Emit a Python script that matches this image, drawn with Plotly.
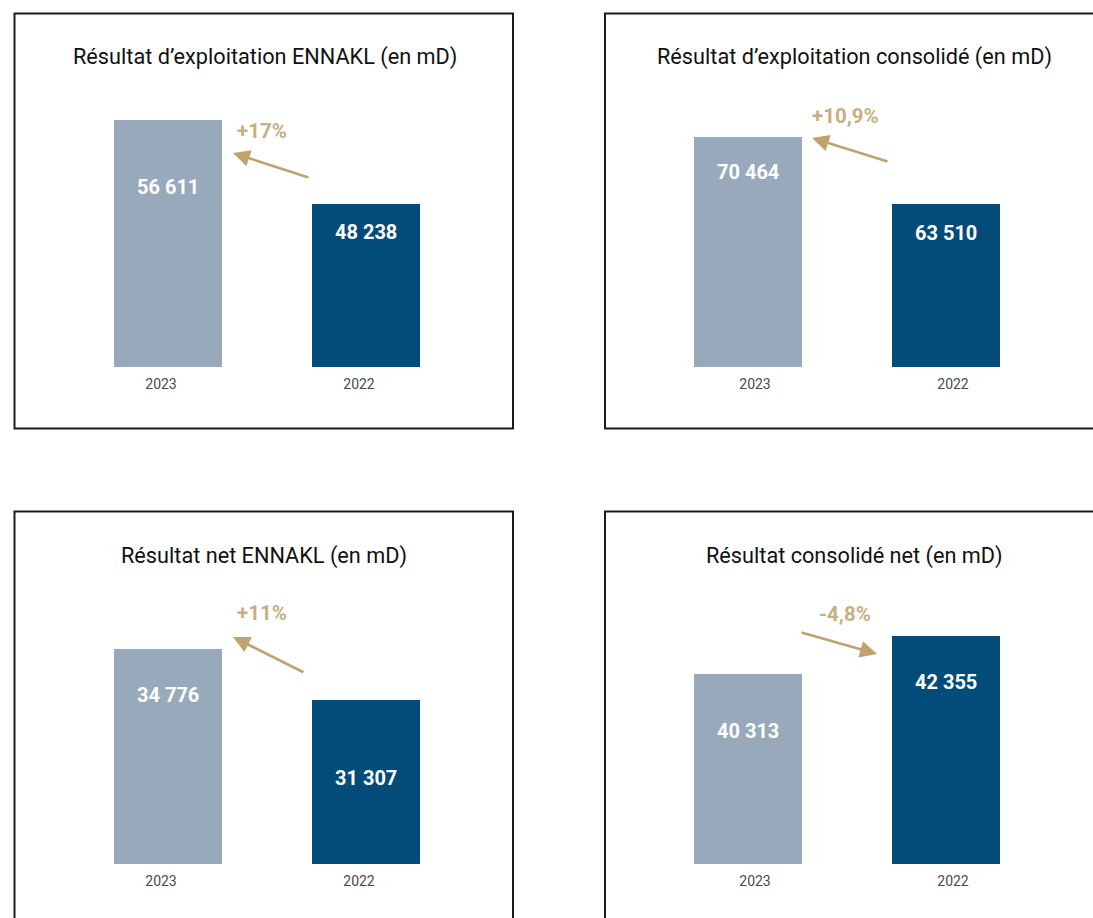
import plotly.graph_objects as go

W, H = 1093, 918

# ---- data ----
years = ["2023", "2022"]
titles = [
    "Résultat d’exploitation ENNAKL (en mD)",
    "Résultat d’exploitation consolidé (en mD)",
    "Résultat net ENNAKL (en mD)",
    "Résultat consolidé net (en mD)",
]
vals_exploit_ennakl = [56611, 48238]
vals_exploit_conso = [70464, 63510]
vals_net_ennakl = [34776, 31307]
vals_net_conso = [40313, 42355]
changes = ["+17%", "+10,9%", "+11%", "-4,8%"]

series = [vals_exploit_ennakl, vals_exploit_conso, vals_net_ennakl, vals_net_conso]

# ---- styling / layout (pixels) ----
LIGHT = "#97A9BB"
DARK = "#034B78"
GOLD_TXT = "#C6B083"
GOLD_ARR = "#BEA36F"
FONT = "Roboto"


def px(x):
    return x / W


def py(y):
    return 1 - y / H


panels = [
    dict(box=(14.5, 13.5, 513, 428.5), xdom=(69, 465), base=367, top=100,
         yrange=(31990, 58604), title=(265, 57), change=(262, 131),
         tip=(233, 153), tail=(310, 178), labels_y=(187, 232), shift=-7),
    dict(box=(605, 13.5, 1110, 428.5), xdom=(649, 1045), base=367, top=100,
         yrange=(46592, 74304), title=(854, 57), change=(845, 116),
         tip=(812, 138), tail=(889, 162), labels_y=(172, 233), shift=7),
    dict(box=(14.5, 511.5, 513, 940), xdom=(69, 465), base=864, top=597,
         yrange=(20152, 38313), title=(264, 556), change=(262, 613),
         tip=(233, 637), tail=(305, 673), labels_y=(695, 778), shift=-7),
    dict(box=(605, 511.5, 1110, 940), xdom=(649, 1045), base=864, top=597,
         yrange=(30103, 44451), title=(854, 556), change=(845, 614),
         tip=(877, 654), tail=(800, 632), labels_y=(731, 682), shift=7),
]

fig = go.Figure()
annotations = []
shapes = []
layout = {}

for i, (p, vals) in enumerate(zip(panels, series)):
    n = "" if i == 0 else str(i + 1)
    xa, ya = "x" + n, "y" + n
    fig.add_trace(go.Bar(
        x=years, y=vals, xaxis=xa, yaxis=ya,
        marker=dict(color=[LIGHT, DARK], line=dict(width=0)),
        width=0.545, hoverinfo="skip", showlegend=False,
    ))
    layout["xaxis" + n] = dict(
        type="category",
        domain=[px(p["xdom"][0]), px(p["xdom"][1])], anchor=ya,
        range=[-0.5, 1.5], showgrid=False, zeroline=False, showline=False,
        ticks="", tickfont=dict(family=FONT, size=14, color="#4a4a4a"),
        ticklabelstandoff=7, ticklabelshift=p["shift"], fixedrange=True,
    )
    layout["yaxis" + n] = dict(
        domain=[py(p["base"]), py(p["top"])], anchor=xa,
        range=list(p["yrange"]), visible=False, fixedrange=True,
    )
    x0, y0, x1, y1 = p["box"]
    shapes.append(dict(type="rect", xref="paper", yref="paper",
                       x0=px(x0), x1=px(x1), y0=py(y0), y1=py(y1),
                       line=dict(color="#1c1c1c", width=2), layer="below"))
    annotations.append(dict(
        text=titles[i], xref="paper", yref="paper",
        x=px(p["title"][0]), y=py(p["title"][1]), showarrow=False,
        xanchor="center", yanchor="middle",
        font=dict(family=FONT, size=21.7, color="#111111", weight=400),
    ))
    for j, v in enumerate(vals):
        annotations.append(dict(
            text=f"{v:,}".replace(",", " "), xref=xa, yref="paper",
            x=j, y=py(p["labels_y"][j]), showarrow=False,
            xanchor="center", yanchor="middle",
            font=dict(family=FONT, size=20, color="white", weight="bold"),
        ))
    annotations.append(dict(
        text=changes[i], xref="paper", yref="paper",
        x=px(p["change"][0]), y=py(p["change"][1]), showarrow=False,
        xanchor="center", yanchor="middle",
        font=dict(family=FONT, size=20.5, color=GOLD_TXT, weight="bold"),
    ))
    tx, ty = p["tip"]
    sx, sy = p["tail"]
    annotations.append(dict(
        text="", xref="paper", yref="paper", x=px(tx), y=py(ty),
        ax=sx - tx, ay=sy - ty, axref="pixel", ayref="pixel",
        showarrow=True, arrowhead=2, arrowsize=1.3, arrowwidth=2.6,
        arrowcolor=GOLD_ARR, standoff=0,
    ))

fig.update_layout(
    width=W, height=H, margin=dict(l=0, r=0, t=0, b=0),
    paper_bgcolor="white", plot_bgcolor="rgba(0,0,0,0)",
    annotations=annotations, shapes=shapes, bargap=0, **layout,
)

fig.write_html(
    "out.html",
    config={"displayModeBar": False},
    post_script="document.body.style.margin='0px';document.body.style.overflow='hidden';",
)
